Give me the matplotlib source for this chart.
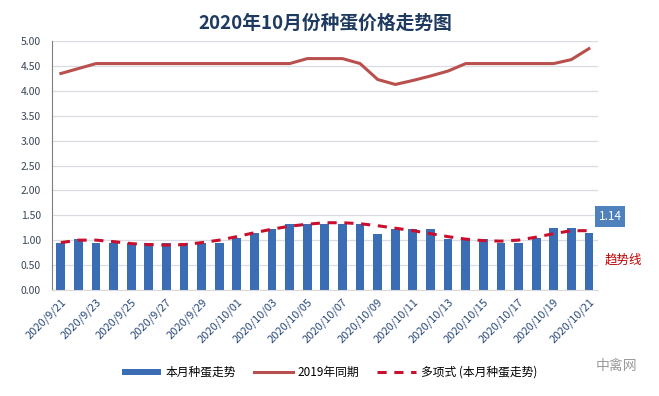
import numpy as np
import matplotlib.pyplot as plt

plt.rcParams['font.family'] = ['Noto Sans CJK SC', 'DejaVu Sans']

# dates 2020/9/21 .. 2020/10/21
dates = ['2020/9/%d' % d for d in range(21, 31)] + ['2020/10/%02d' % d for d in range(1, 22)]

# this month's hatching-egg price
price_2020 = [0.95, 1.02, 0.95, 0.95, 0.95, 0.95, 0.95, 0.95, 0.95, 0.95,
              1.05, 1.15, 1.22, 1.33, 1.33, 1.33, 1.33, 1.33, 1.13, 1.22,
              1.22, 1.22, 1.03, 1.02, 1.02, 0.95, 0.95, 1.05, 1.25, 1.25, 1.14]

# same period 2019
price_2019 = [4.35, 4.45, 4.55, 4.55, 4.55, 4.55, 4.55, 4.55, 4.55, 4.55,
              4.55, 4.55, 4.55, 4.55, 4.65, 4.65, 4.65, 4.55, 4.23, 4.13,
              4.21, 4.30, 4.40, 4.55, 4.55, 4.55, 4.55, 4.55, 4.55, 4.63, 4.85]

# polynomial trend line
trend = [0.95, 1.00, 1.00, 0.97, 0.93, 0.91, 0.90, 0.91, 0.95, 1.00,
         1.07, 1.15, 1.22, 1.28, 1.32, 1.35, 1.35, 1.33, 1.29, 1.24,
         1.19, 1.13, 1.07, 1.02, 0.99, 0.98, 1.00, 1.06, 1.13, 1.19, 1.19]

x = np.arange(len(dates))

fig = plt.figure(figsize=(6.59, 3.96), dpi=100)
ax = fig.add_axes([0.079, 0.268, 0.828, 0.628])

b = ax.bar(x, price_2020, width=0.5, color='#3a6db4', label='本月种蛋走势', zorder=2)
l1, = ax.plot(x, price_2019, color='#b9504d', lw=2.2, label='2019年同期', zorder=3)
l2, = ax.plot(x, trend, color='#c8102e', lw=2.2, ls=(0, (3, 2.5)), label='多项式 (本月种蛋走势)', zorder=4)

ax.set_xlim(-0.5, len(dates) - 0.5)
ax.set_ylim(0, 5)
ax.set_yticks(np.arange(0, 5.01, 0.5))
ax.set_yticklabels(['%.2f' % v for v in np.arange(0, 5.01, 0.5)])
ax.set_xticks(x[::2])
ax.set_xticklabels(dates[::2], rotation=45, ha='right', rotation_mode='anchor')
ax.tick_params(axis='x', length=0, labelsize=8, labelcolor='#2a4a7a', pad=5)
ax.tick_params(axis='y', length=0, labelsize=7.5, labelcolor='#3a4658', pad=8)

ax.grid(axis='y', color='#d9dde3', lw=0.9, zorder=0)
for s in ['top', 'right']:
    ax.spines[s].set_visible(False)
ax.spines['left'].set_color('#7f7f7f')
ax.spines['bottom'].set_color('#d9d9d9')

ax.set_title('2020年10月份种蛋价格走势图', fontsize=13.5, fontweight='bold',
             color='#1f3a60', pad=9)

# last value label
ax.annotate('%.2f' % price_2020[-1], xy=(x[-1], price_2020[-1]), xytext=(7, 12),
            textcoords='offset points', fontsize=8.5, color='white', va='center', ha='left',
            bbox=dict(boxstyle='square,pad=0.3', fc='#4f81bd', ec='none'))
ax.text(1.012, 0.12, '趋势线', transform=ax.transAxes, fontsize=9, color='#c00000',
        va='center', ha='left')

fig.legend([b, l1, l2], [b.get_label(), l1.get_label(), l2.get_label()],
           loc='center', bbox_to_anchor=(0.5, 0.06), ncol=3, frameon=False,
           fontsize=8.5, handlelength=3.3, handleheight=0.4, columnspacing=1.5,
           handletextpad=0.4)

fig.text(0.935, 0.075, '中禽网', fontsize=10, color='#9a9a9a', ha='center', va='center')

fig.savefig('out.png', dpi=100)
